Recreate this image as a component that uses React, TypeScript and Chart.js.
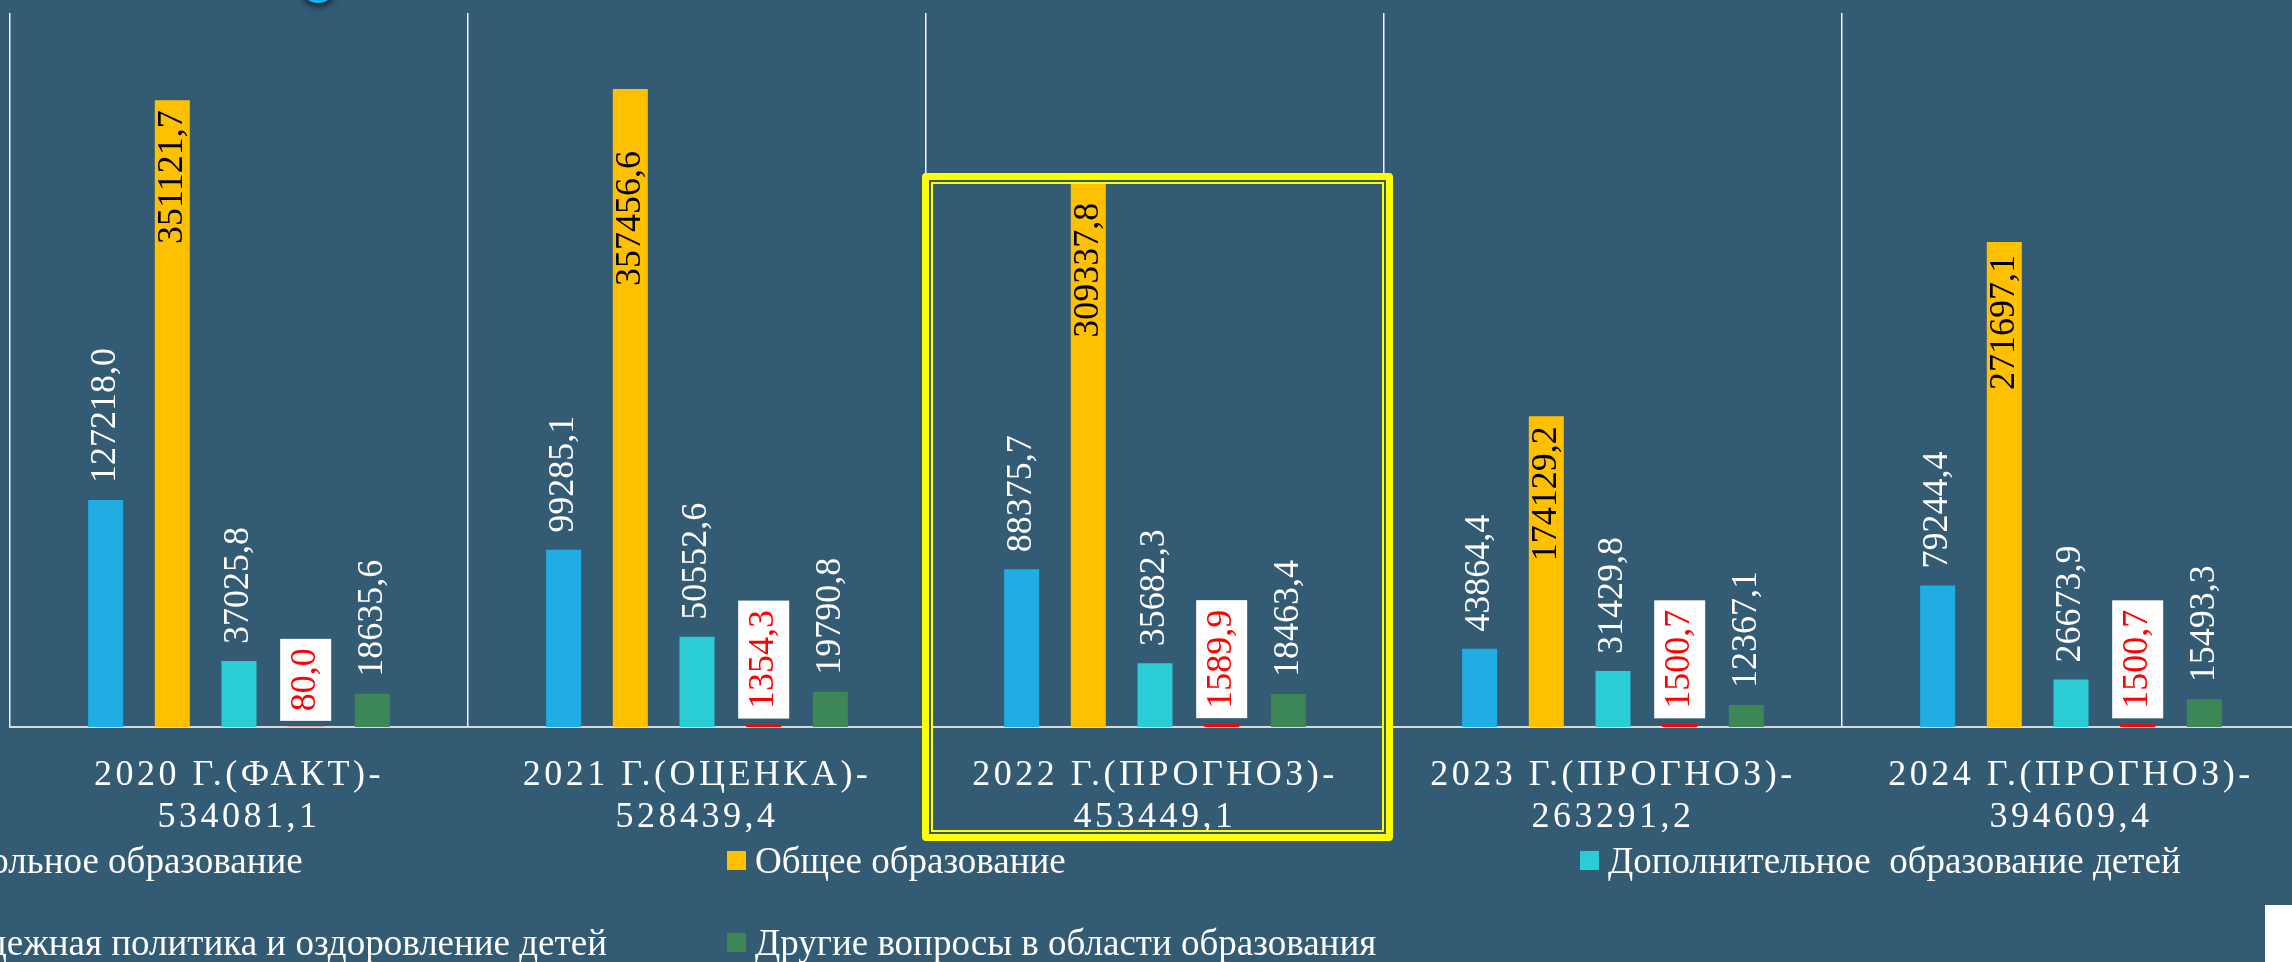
import React, { useEffect, useRef } from "react";
import { Chart, registerables } from "chart.js";

Chart.register(...registerables);

// ---- data ----
const yearLabels = [
  "2020 Г.(ФАКТ)-",
  "2021 Г.(ОЦЕНКА)-",
  "2022 Г.(ПРОГНОЗ)-",
  "2023 Г.(ПРОГНОЗ)-",
  "2024 Г.(ПРОГНОЗ)-",
];
const yearTotals = ["534081,1", "528439,4", "453449,1", "263291,2", "394609,4"];

const seriesNames = [
  "Дошкольное образование",
  "Общее образование",
  "Дополнительное  образование детей",
  "Молодежная политика и оздоровление детей",
  "Другие вопросы в области образования",
];
const preschool = [127218.0, 99285.1, 88375.7, 43864.4, 79244.4];
const general = [351121.7, 357456.6, 309337.8, 174129.2, 271697.1];
const additional = [37025.8, 50552.6, 35682.3, 31429.8, 26673.9];
const youth = [80.0, 1354.3, 1589.9, 1500.7, 1500.7];
const other = [18635.6, 19790.8, 18463.4, 12367.1, 15493.3];
const yMax = 400000;

// ---- styles ----
const BG = "#345B74";
const seriesColors = ["#1FADE3", "#FFC000", "#2ACCD6", "#FF0000", "#3D8655"];
const labelKinds = ["outside", "inside", "outside", "boxed", "outside"];
const SERIF = '"Liberation Serif", Tinos, "Times New Roman"';

const fmt = (v: number) => v.toFixed(1).replace(".", ",");

const tickSpacingPlugin = {
  id: "tickSpacing",
  beforeDraw(chart: any) {
    chart.ctx.letterSpacing = "3.5px";
  },
  beforeDatasetsDraw(chart: any) {
    chart.ctx.letterSpacing = "0px";
  },
};

const barLabelsPlugin = {
  id: "barLabels",
  afterDatasetsDraw(chart: any, _args: any, opts: any) {
    const ctx = chart.ctx as CanvasRenderingContext2D;
    ctx.save();
    (ctx as any).letterSpacing = "0px";
    ctx.font = `36px ${SERIF}`;
    ctx.textBaseline = "middle";
    chart.data.datasets.forEach((ds: any, di: number) => {
      const meta = chart.getDatasetMeta(di);
      const kind = opts.kinds[di];
      meta.data.forEach((el: any, i: number) => {
        const text = fmt(ds.data[i]);
        ctx.save();
        if (kind === "inside") {
          ctx.translate(el.x, el.y + opts.insideOffsets[i]);
          ctx.rotate(-Math.PI / 2);
          ctx.textAlign = "right";
          ctx.fillStyle = "#000000";
          ctx.fillText(text, 0, 0);
        } else if (kind === "boxed") {
          const w = ctx.measureText(text).width;
          const pad = opts.boxPad;
          const boxW = opts.boxWidth;
          const boxBottom = el.y - opts.boxGap;
          const boxH = w + pad * 2;
          ctx.fillStyle = "#FFFFFF";
          ctx.fillRect(el.x - boxW / 2, boxBottom - boxH, boxW, boxH);
          ctx.translate(el.x, boxBottom - pad);
          ctx.rotate(-Math.PI / 2);
          ctx.textAlign = "left";
          ctx.fillStyle = "#FF0000";
          ctx.fillText(text, 0, 0);
        } else {
          ctx.translate(el.x, el.y - opts.outsideGap);
          ctx.rotate(-Math.PI / 2);
          ctx.textAlign = "left";
          ctx.fillStyle = "#FFFFFF";
          ctx.fillText(text, 0, 0);
        }
        ctx.restore();
      });
    });
    ctx.restore();
  },
};

const legendCols = [-126, 727, 1580];
const legendRows = [851, 933];

export default function App() {
  const ref = useRef<HTMLCanvasElement>(null);

  useEffect(() => {
    if (!ref.current) return;
    const allSeries = [preschool, general, additional, youth, other];
    const chart = new Chart(ref.current, {
      type: "bar",
      data: {
        labels: yearLabels.map((y, i) => [y, yearTotals[i]]),
        datasets: allSeries.map((d, i) => ({
          label: seriesNames[i],
          data: d,
          backgroundColor: seriesColors[i],
          borderWidth: 0,
          categoryPercentage: 0.728,
          barPercentage: 0.525,
        })),
      },
      options: {
        responsive: false,
        animation: false,
        devicePixelRatio: 1,
        layout: { padding: { left: 10, right: 20, top: 13, bottom: 0 } },
        plugins: {
          legend: { display: false },
          tooltip: { enabled: false },
          barLabels: {
            kinds: labelKinds,
            insideOffsets: [10, 62, 28, 10, 13],
            outsideGap: 17,
            boxGap: 6,
            boxPad: 9.5,
            boxWidth: 51,
          },
        } as any,
        scales: {
          x: {
            grid: {
              color: "rgba(255,255,255,0.95)",
              lineWidth: 1.5,
              drawTicks: false,
              offset: true,
            },
            border: { display: true, color: "#D9D9D9", width: 2 },
            ticks: {
              color: "#FFFFFF",
              font: { family: SERIF, size: 36, lineHeight: 1.167 },
              padding: 28,
              maxRotation: 0,
              minRotation: 0,
              autoSkip: false,
            },
            afterFit: (s: any) => {
              s.height = 235;
            },
          },
          y: { display: false, min: 0, max: yMax },
        },
      },
      plugins: [tickSpacingPlugin, barLabelsPlugin],
    } as any);
    let alive = true;
    const fonts = (document as any).fonts;
    if (fonts && fonts.load) {
      fonts.load(`36px "Liberation Serif"`).then(() => {
        if (alive) chart.update();
      });
    }
    return () => {
      alive = false;
      chart.destroy();
    };
  }, []);

  return (
    <div
      style={{
        position: "fixed",
        left: 0,
        top: 0,
        width: 2292,
        height: 962,
        overflow: "hidden",
        background: BG,
      }}
    >
      <canvas
        ref={ref}
        width={2320}
        height={962}
        style={{ position: "absolute", left: 0, top: 0, width: 2320, height: 962 }}
      />
      {/* legend */}
      {seriesNames.map((name, i) => {
        const col = legendCols[i % 3];
        const row = legendRows[Math.floor(i / 3)];
        return (
          <React.Fragment key={name}>
            <div
              style={{
                position: "absolute",
                left: col,
                top: row,
                width: 19,
                height: 19,
                background: seriesColors[i],
              }}
            />
            <div
              style={{
                position: "absolute",
                left: col + 28,
                top: row - 9,
                fontFamily: SERIF,
                fontSize: 37,
                lineHeight: "37px",
                color: "#FFFFFF",
                whiteSpace: "pre",
              }}
            >
              {name}
            </div>
          </React.Fragment>
        );
      })}
      {/* highlight frame around 2022 */}
      <div
        style={{
          position: "absolute",
          left: 922,
          top: 173,
          width: 471,
          height: 668,
          boxSizing: "border-box",
          border: "7px solid #FFFF00",
          borderRadius: 4,
          boxShadow: `inset 0 0 0 2px ${BG}, inset 0 0 0 4px #FFFF00`,
        }}
      />
      {/* slide decorations */}
      <div
        style={{
          position: "absolute",
          left: 300,
          top: -33,
          width: 36,
          height: 36,
          borderRadius: "50%",
          background: "#1AB0F0",
          boxShadow: "0 4px 6px rgba(0,0,0,0.55)",
        }}
      />
      <div
        style={{
          position: "absolute",
          left: 2265,
          top: 905,
          width: 40,
          height: 60,
          background: "#FFFFFF",
        }}
      />
    </div>
  );
}
